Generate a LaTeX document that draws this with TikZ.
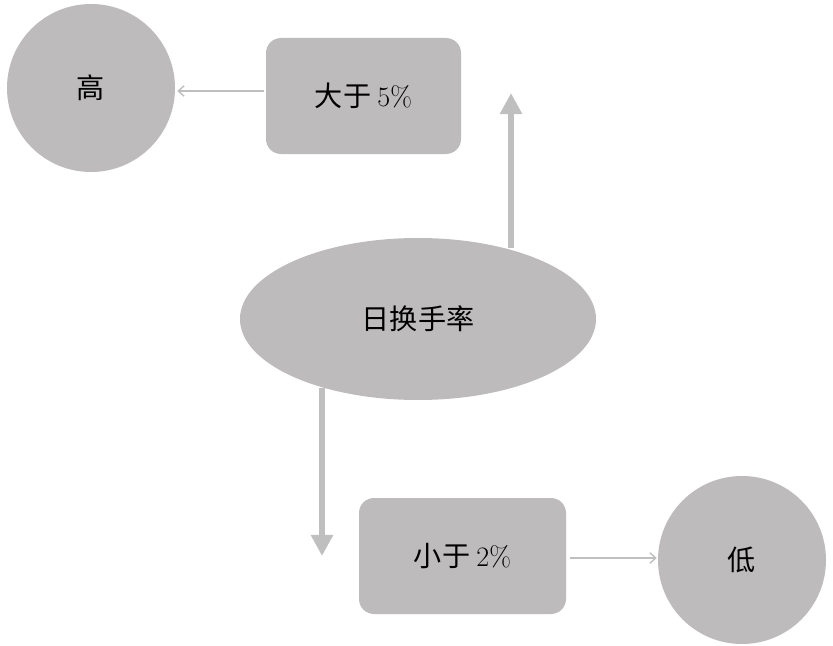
\documentclass[tikz,border=0pt]{standalone}
\usepackage{fontspec}
\newfontfamily\cjk{Noto Sans CJK SC}
\usetikzlibrary{arrows.meta, positioning, shapes.geometric}
\definecolor{boxgray}{HTML}{BDBBBC}
\definecolor{linegray}{HTML}{BFBFBF}

\tikzset{
  lvl/.style={circle, fill=boxgray, minimum size=168*0.03cm, inner sep=0pt, font=\cjk\fontsize{24}{28}\selectfont},
  cond/.style={rectangle, rounded corners=0.45cm, fill=boxgray, inner sep=0pt, font=\cjk\fontsize{24}{28}\selectfont},
  thinarrow/.style={draw=linegray, line width=1.2pt, -{Straight Barb[length=5pt, width=9pt]}},
  fatarrow/.style={draw=linegray, line width=5.5pt, -{Triangle[length=18pt, width=18pt]}}
}

\begin{document}
\begin{tikzpicture}[x=0.03cm, y=-0.03cm]
  \useasboundingbox (0,0) rectangle (833,646);
  % centre node
  \node[ellipse, fill=boxgray, minimum width=356*0.03cm, minimum height=162*0.03cm, inner sep=0pt,
        font=\cjk\fontsize{24}{28}\selectfont] (rate) at (418,319) {日换手率};
  % upper branch
  \node[cond, minimum width=195*0.03cm, minimum height=116*0.03cm] (gt) at (363.5,96) {大于 {\rmfamily 5\%}};
  \node[lvl] (high) at (91,88) {高};
  % lower branch
  \node[cond, minimum width=207*0.03cm, minimum height=116*0.03cm] (lt) at (462.5,556) {小于 {\rmfamily 2\%}};
  \node[lvl] (low) at (742,560) {低};
  % connector rows and tips
  \coordinate (uptip) at (511,93);
  \coordinate (downtip) at (322,556);
  \coordinate (uprow) at (0,91);
  \coordinate (lowrow) at (0,558);
  \draw[fatarrow] ([yshift=-10*0.03cm]rate.north -| uptip) -- (uptip);
  \draw[fatarrow] ([yshift=12*0.03cm]rate.south -| downtip) -- (downtip);
  \draw[thinarrow] ([xshift=-2*0.03cm]gt.west |- uprow) -- ([xshift=2*0.03cm]high.east |- uprow);
  \draw[thinarrow] ([xshift=4*0.03cm]lt.east |- lowrow) -- ([xshift=-1*0.03cm]low.west |- lowrow);
\end{tikzpicture}
\end{document}
